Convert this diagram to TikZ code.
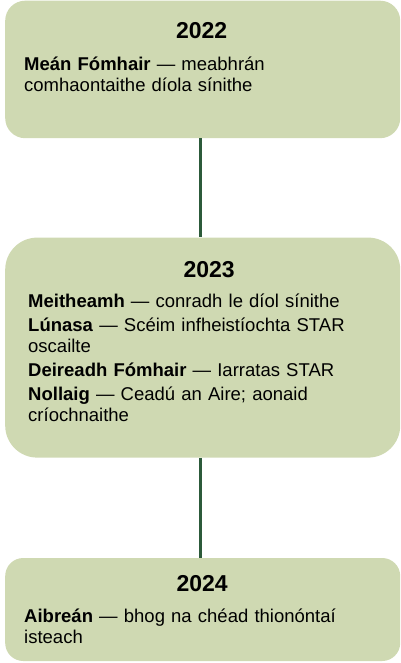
\documentclass[tikz,border=0pt]{standalone}
\usepackage{fontspec}
\setmainfont{Liberation Sans}
\usetikzlibrary{positioning}
\definecolor{boxgreen}{RGB}{207,217,178}
\definecolor{linegreen}{RGB}{44,90,58}

\begin{document}
\begin{tikzpicture}[x=1pt,y=1pt,
  year/.style={fill=boxgreen,inner sep=0pt,minimum width=395pt},
  title/.style={font=\fontsize{23}{27}\selectfont\bfseries,inner sep=0pt,anchor=base},
  entry/.style={font=\fontsize{18.5}{21}\selectfont,inner sep=0pt,anchor=base west,align=left,text width=360pt},
  link/.style={draw=linegreen,line width=2.6pt}]
  \useasboundingbox (0,0) rectangle (401,-663);

  % year boxes
  \node[year, rounded corners=20pt, minimum height=137.5pt, anchor=north west] (Y22) at (5,-0.5) {};
  \node[year, rounded corners=32pt, minimum height=220pt, below=99pt of Y22] (Y23) {};
  \node[year, rounded corners=18pt, minimum height=103pt, below=100pt of Y23] (Y24) {};

  % timeline
  \draw[link] ([xshift=-2.5pt]Y22.south) -- ([xshift=-2.5pt]Y23.north);
  \draw[link] ([xshift=-2.5pt]Y23.south) -- ([xshift=-2.5pt]Y24.north);

  \node[title] (T22) at ([xshift=-1pt,yshift=-38pt]Y22.north) {2022};
  \node[title] (T23) at ([xshift=6.5pt,yshift=-40pt]Y23.north) {2023};
  \node[title] (T24) at ([xshift=-0.5pt,yshift=-34pt]Y24.north) {2024};

  \node[entry] (E22) at ([xshift=19pt,yshift=-70.5pt]Y22.north west)
    {\textbf{Meán Fómhair} — meabhrán\\comhaontaithe díola sínithe};
  \node[entry] (E23) at ([xshift=23pt,yshift=-69.7pt]Y23.north west)
    {\textbf{Meitheamh} — conradh le díol sínithe\\[3pt]
     \textbf{Lúnasa} — Scéim infheistíochta STAR\\oscailte\\[3pt]
     \textbf{Deireadh Fómhair} — Iarratas STAR\\[3pt]
     \textbf{Nollaig} — Ceadú an Aire; aonaid\\críochnaithe};
  \node[entry] (E24) at ([xshift=19pt,yshift=-65pt]Y24.north west)
    {\textbf{Aibreán} — bhog na chéad thionóntaí\\isteach};
\end{tikzpicture}
\end{document}
